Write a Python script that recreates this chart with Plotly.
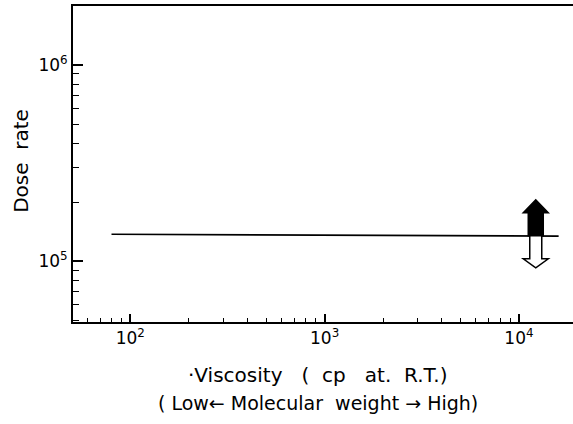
import plotly.graph_objects as go

# Data
viscosity = [80, 16000]          # cp at R.T.
dose_rate = [1.37e5, 1.34e5]
arrow_x = 12200                   # arrow position on viscosity axis
arrow_y = 1.345e5                 # arrow base on the line

x_tickvals = [100, 1000, 10000]
x_ticktext = ["10<sup>2</sup>", "10<sup>3</sup>", "10<sup>4</sup>"]
y_tickvals = [1e5, 1e6]
y_ticktext = ["10<sup>5</sup>", "10<sup>6</sup>"]

x_minor = [m * 10 ** e for e in (1, 2, 3, 4) for m in range(2, 10)]
y_minor = [m * 10 ** e for e in (4, 5, 6) for m in range(2, 10)]

FONT = "DejaVu Sans"
NB = "\u00a0"

fig = go.Figure()
fig.add_trace(go.Scatter(x=viscosity, y=dose_rate, mode="lines",
                         line=dict(color="black", width=1.6),
                         showlegend=False, hoverinfo="skip"))

# Arrows (pixel path relative to anchor; +y is up)
up_path = "M -7.5,0 L -7.5,23 L -12.5,23 L 0,36 L 12.5,23 L 7.5,23 L 7.5,0 Z"
down_path = "M -6,0 L -6,-23 L -12.5,-23 L 0,-32 L 12.5,-23 L 6,-23 L 6,0 Z"
for path, fill in [(up_path, "black"), (down_path, "white")]:
    fig.add_shape(type="path", xref="x", yref="y",
                  xsizemode="pixel", ysizemode="pixel",
                  xanchor=arrow_x, yanchor=arrow_y, path=path,
                  fillcolor=fill, line=dict(color="black", width=1.5))

fig.update_xaxes(type="log", range=[1.705, 4.278],
                 tickvals=x_tickvals, ticktext=x_ticktext,
                 ticks="inside", ticklen=8, tickwidth=1.5, tickcolor="black",
                 minor=dict(tickvals=x_minor, ticks="inside", ticklen=4,
                            tickwidth=1.3, tickcolor="black"),
                 showline=True, linecolor="black", linewidth=2, mirror=True,
                 showgrid=False, zeroline=False,
                 tickfont=dict(family=FONT, size=17, color="black"))
fig.update_yaxes(type="log", range=[4.689, 6.301],
                 tickvals=y_tickvals, ticktext=y_ticktext,
                 ticks="inside", ticklen=10, tickwidth=1.5, tickcolor="black",
                 minor=dict(tickvals=y_minor, ticks="inside", ticklen=6,
                            tickwidth=1.3, tickcolor="black"),
                 showline=True, linecolor="black", linewidth=2,
                 showgrid=False, zeroline=False,
                 tickfont=dict(family=FONT, size=17, color="black"))

line1 = f"·Viscosity{NB*3}({NB*2}cp{NB*3}at.{NB*2}R.T.)"
line2 = "( Low← Molecular  weight → High)"

fig.add_annotation(text="Dose  rate", xref="paper", yref="paper",
                   x=-0.104, y=0.51, textangle=-90, showarrow=False,
                   xanchor="center", yanchor="middle",
                   font=dict(family=FONT, size=20, color="black"))
fig.add_annotation(text=line1, xref="paper", yref="paper",
                   x=0.49, y=-0.168, showarrow=False,
                   xanchor="center", yanchor="middle",
                   font=dict(family=FONT, size=20, color="black"))
fig.add_annotation(text=line2, xref="paper", yref="paper",
                   x=0.49, y=-0.256, showarrow=False,
                   xanchor="center", yanchor="middle",
                   font=dict(family=FONT, size=19, color="black"))

fig.update_layout(width=573, height=424,
                  margin=dict(l=73, r=0, t=6, b=102),
                  plot_bgcolor="white", paper_bgcolor="white",
                  font=dict(family=FONT, color="black"))

fig.write_html("out.html")
